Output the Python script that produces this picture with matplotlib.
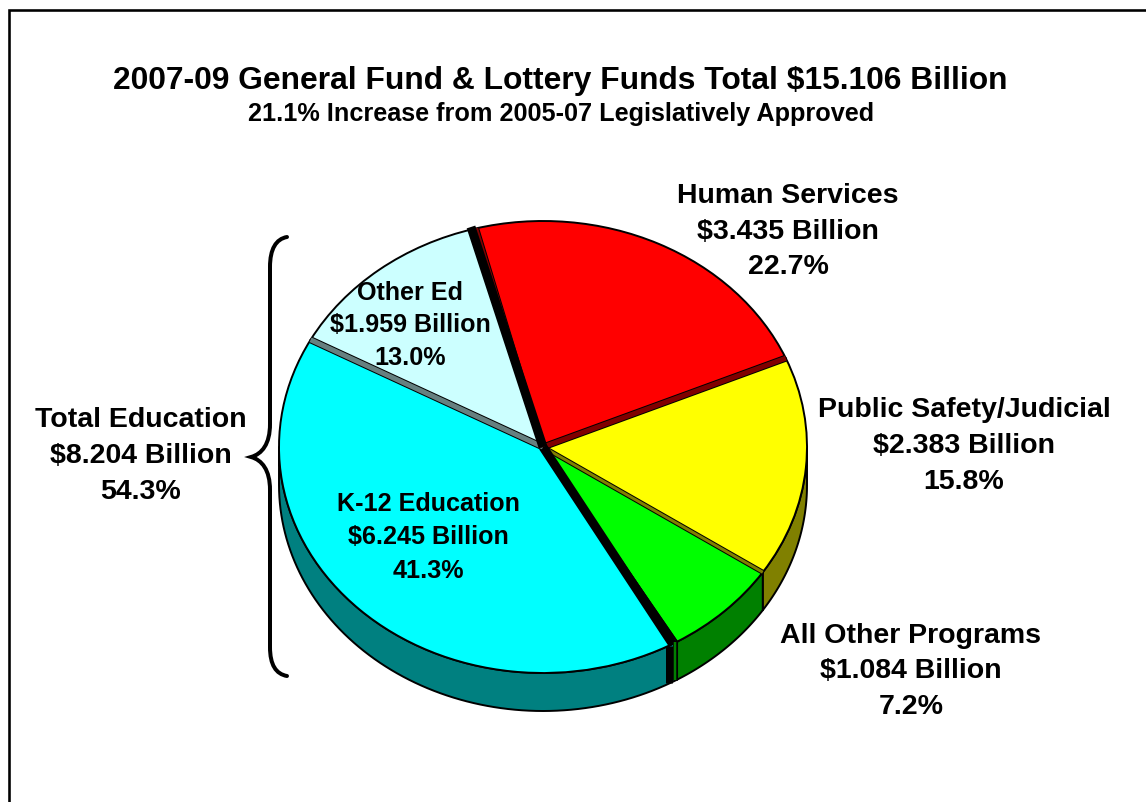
import numpy as np
import matplotlib
matplotlib.use("Agg")
import matplotlib.pyplot as plt
from matplotlib.path import Path
from matplotlib.patches import PathPatch

plt.rcParams['font.family'] = ['Liberation Sans', 'DejaVu Sans']

# data (billions), clockwise from the top
names = ["Human Services", "Public Safety/Judicial", "All Other Programs", "K-12 Education", "Other Ed"]
billions = [3.435, 2.383, 1.084, 6.245, 1.959]
shares = ["22.7%", "15.8%", "7.2%", "41.3%", "13.0%"]
total_edu = 8.204
total_edu_share = "54.3%"

top_colors = ["#ff0000", "#ffff00", "#00ff00", "#00ffff", "#ccffff"]
side_colors = ["#800000", "#808000", "#008000", "#008080", "#668080"]

W, H = 1146, 803
cx, cy, rx, ry = 543, 448, 264, 226
depth = 38 / ry
start = 105
edge_lw = 1.4

fig = plt.figure(figsize=(W / 100, H / 100), dpi=100)
ax = fig.add_axes([(cx - 1.25 * rx) / W, 1 - (cy + 1.25 * ry) / H, 2.5 * rx / W, 2.5 * ry / H])

# slice boundaries, clockwise
fracs = np.array(billions) / sum(billions)
edges = start - 360 * np.concatenate([[0], np.cumsum(fracs)])


def rim(angle):
    return np.cos(np.radians(angle)), np.sin(np.radians(angle))


# outer wall of the disc, only the front half shows
for i in range(len(billions)):
    a = min(edges[i], 0)
    b = max(edges[i + 1], -180)
    if a <= b:
        continue
    t = np.linspace(a, b, 80)
    x, y = rim(t)
    ax.fill(np.r_[x, x[::-1]], np.r_[y, y[::-1] - depth], facecolor=side_colors[i],
            edgecolor="black", linewidth=edge_lw, joinstyle="round")

ax.pie(billions, colors=top_colors, startangle=start, counterclock=False, radius=1,
       wedgeprops={"edgecolor": "black", "linewidth": edge_lw})
ax.set_xlim(-1.25, 1.25)
ax.set_ylim(-1.25, 1.25)
ax.set_aspect("auto")


def band(angle, width, color, shift=0.0, outline=True, tip=1.0):
    # radial band over a slice boundary, width in pixels, shift in pixels at the rim only
    x, y = rim(angle)
    n = np.array([-y * ry, x * rx])
    n = n / np.hypot(*n)
    sx, sy = n[0] * shift / rx, n[1] * shift / ry
    xs, ys = [0, x * tip + sx], [0, y * tip + sy]
    if outline:
        ax.plot(xs, ys, color="black", lw=(width + 2) * 0.72, solid_capstyle="butt")
    ax.plot(xs, ys, color=color, lw=width * 0.72, solid_capstyle="butt")


band(edges[1], 5, side_colors[0])
band(edges[2], 3, side_colors[1])
band(edges[3], 9, "black", shift=-5, outline=False)
band(edges[4], 5, side_colors[4])
band(edges[5], 3, side_colors[0], shift=-2)
band(edges[5], 9, "black", shift=3, outline=False, tip=1.012)

# slot running down the wall in front of the K-12 / All Other gap
x3, y3 = rim(edges[3])
ax.plot([x3 - 8 / rx] * 2, [y3 - 4 / ry, y3 - depth - 3 / ry], color="black", lw=7 * 0.72, solid_capstyle="butt")
ax.plot([x3 - 2.5 / rx] * 2, [y3, y3 - depth], color="black", lw=5 * 0.72, solid_capstyle="butt")
ax.plot([x3 - 2.5 / rx] * 2, [y3, y3 - depth], color=side_colors[2], lw=2.5 * 0.72, solid_capstyle="butt")

# overlay in picture pixels: frame, bracket, texts
over = fig.add_axes([0, 0, 1, 1])
over.set_xlim(0, W)
over.set_ylim(H, 0)
over.axis("off")

over.plot([9, 9, W], [H, 10.5, 10.5], color="black", lw=2.6 * 0.72, solid_joinstyle="miter")

brace = Path(
    [(287, 238), (276, 240), (270, 250), (270, 268),
     (270, 425), (270, 445), (262, 455), (251, 458),
     (262, 461), (270, 471), (270, 491),
     (270, 648), (270, 666), (276, 675), (287, 677)],
    [Path.MOVETO, Path.CURVE4, Path.CURVE4, Path.CURVE4,
     Path.LINETO, Path.CURVE4, Path.CURVE4, Path.CURVE4,
     Path.CURVE4, Path.CURVE4, Path.CURVE4,
     Path.LINETO, Path.CURVE4, Path.CURVE4, Path.CURVE4])
over.add_patch(PathPatch(brace, facecolor="none", edgecolor="black", lw=4 * 0.72, capstyle="round"))


def label(x, y, lines, size, step):
    for k, line in enumerate(lines):
        over.text(x, y + k * step, line.replace("$", r"\$"), fontsize=size, fontweight="bold",
                  ha="center", va="center", color="black")


def lines_for(i):
    return [names[i], f"${billions[i]:.3f} Billion", shares[i]]


label(560.5, 81, ["2007-09 General Fund & Lottery Funds Total $15.106 Billion"], 22.9, 0)
label(561, 114, ["21.1% Increase from 2005-07 Legislatively Approved"], 18.2, 0)

label(788, 196, lines_for(0), 20.5, 35.5)
label(964, 410, lines_for(1), 20.5, 36)
label(911, 636, lines_for(2), 20.5, 35.5)
label(428, 504, lines_for(3), 18.1, 33.5)
label(410, 293, lines_for(4), 18.1, 32.5)
label(141, 420, ["Total Education", f"${total_edu:.3f} Billion", total_edu_share], 20.5, 36)

fig.savefig("out.png", dpi=100, facecolor="white")
